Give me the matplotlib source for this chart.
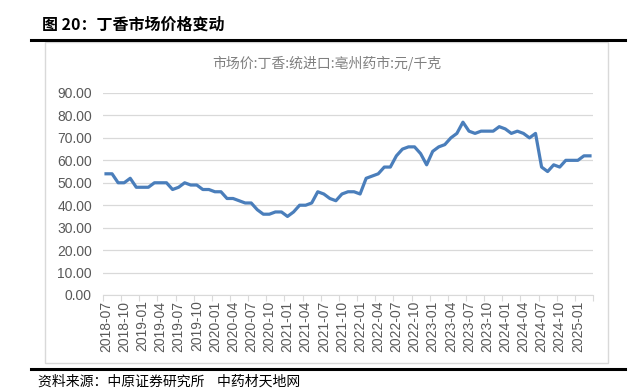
import matplotlib
matplotlib.use("Agg")
import matplotlib.pyplot as plt
from matplotlib.patches import Rectangle
from matplotlib.lines import Line2D

plt.rcParams['font.family'] = ['Noto Sans CJK SC', 'DejaVu Sans']

# monthly data 2018-07 .. 2025-03
start_year, start_month = 2018, 7
prices = [54, 54, 50, 50, 52, 48, 48, 48, 50, 50, 50, 47,
          48, 50, 49, 49, 47, 47, 46, 46, 43, 43, 42, 41,
          41, 38, 36, 36, 37, 37, 35, 37, 40, 40, 41, 46,
          45, 43, 42, 45, 46, 46, 45, 52, 53, 54, 57, 57,
          62, 65, 66, 66, 63, 58, 64, 66, 67, 70, 72, 77,
          73, 72, 73, 73, 73, 75, 74, 72, 73, 72, 70, 72,
          57, 55, 58, 57, 60, 60, 60, 62, 62]
months = []
y, m = start_year, start_month
for _ in prices:
    months.append(f"{y}-{m:02d}")
    m += 1
    if m > 12:
        m = 1
        y += 1
yticks = [0, 10, 20, 30, 40, 50, 60, 70, 80, 90]

title = "图 20：丁香市场价格变动"
chart_title = "市场价:丁香:统进口:亳州药市:元/千克"
source = "资料来源：中原证券研究所    中药材天地网"

W, H = 634, 392
fig = plt.figure(figsize=(W / 100, H / 100), dpi=100)

# chart frame
fig.patches.append(Rectangle((45 / W, 1 - 363 / H), (608 - 45) / W, (363 - 42) / H,
                             transform=fig.transFigure, fill=False,
                             edgecolor='#d9d9d9', linewidth=1.0))
# heavy rules
fig.lines.append(Line2D([31 / W, 625 / W], [1 - 39.5 / H] * 2, transform=fig.transFigure,
                        color='black', linewidth=2.2))
fig.lines.append(Line2D([31 / W, 625 / W], [1 - 369 / H] * 2, transform=fig.transFigure,
                        color='black', linewidth=2.2))

fig.text(42 / W, 1 - 25 / H, title, fontsize=11.5, fontweight='bold',
         ha='left', va='center', color='black')
fig.text(38 / W, 1 - 382 / H, source, fontsize=10, ha='left', va='center', color='black')
fig.text(327 / W, 1 - 63 / H, chart_title, fontsize=10, ha='center', va='center',
         color='#7f7f7f')

tick_font = ['Liberation Sans', 'DejaVu Sans']
ax = fig.add_axes([103 / W, 1 - 295 / H, (593 - 103) / W, (295 - 93) / H])
x = list(range(len(prices)))
ax.plot(x, prices, color='#4a7ebb', linewidth=2.3, solid_joinstyle='round', clip_on=False)
ax.set_xlim(-0.5, len(prices) - 0.5)
ax.set_ylim(0, 90)
ax.set_yticks(yticks)
ax.set_yticklabels([f"{v:.2f}" for v in yticks], fontsize=10, color='#595959',
                   family=tick_font)
ax.set_xticks(x[::3])
ax.set_xticklabels(months[::3], rotation=90, fontsize=10, color='#595959',
                   family=tick_font)
ax.set_xticks([i - 0.5 for i in range(0, len(prices) + 1, 3)], minor=True)
ax.tick_params(axis='x', which='major', length=0, pad=4)
ax.tick_params(axis='x', which='minor', length=4, color='#d9d9d9', width=0.8)
ax.tick_params(axis='y', length=0, pad=8)
ax.grid(axis='y', color='#d9d9d9', linewidth=0.9)
ax.set_axisbelow(True)
for s in ['top', 'right', 'left']:
    ax.spines[s].set_visible(False)
ax.spines['bottom'].set_color('#d9d9d9')

fig.savefig("out.png", dpi=100)
